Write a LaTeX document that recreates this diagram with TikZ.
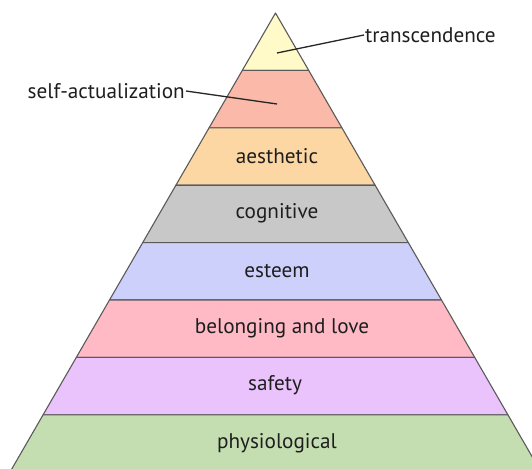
\documentclass[tikz,border=0pt]{standalone}
\usepackage{fontspec}
\setmainfont{PT Sans}
\definecolor{cTrans}{HTML}{FFFAC8}
\definecolor{cSelf}{HTML}{FBB9A9}
\definecolor{cAesth}{HTML}{FDD7A3}
\definecolor{cCogn}{HTML}{C8C8C8}
\definecolor{cEst}{HTML}{CDD0FA}
\definecolor{cBel}{HTML}{FFBAC6}
\definecolor{cSaf}{HTML}{EAC2FC}
\definecolor{cPhys}{HTML}{C4DEB2}
\definecolor{cEdge}{HTML}{5A5A5A}
\definecolor{cText}{HTML}{1E1E1E}
\tikzset{
  layerbox/.style={draw=cEdge, line width=1.1pt, line join=round},
  layertext/.style={font=\fontsize{21.2}{23}\selectfont, text=cText, inner sep=0pt},
  pointer/.style={draw=black!85, line width=1.3pt},
}
\begin{document}
\begin{tikzpicture}[x=1pt,y=-1pt]
\useasboundingbox (0,0) rectangle (532,468);
\clip (0,0) rectangle (532,468);
\def\ax{275.5}
\def\ay{13}
\def\dy{57.4}
\def\dw{33.2}
\foreach \k/\col in {0/cTrans,1/cSelf,2/cAesth,3/cCogn,4/cEst,5/cBel,6/cSaf,7/cPhys}{
  \pgfmathsetmacro{\ya}{\ay+\dy*\k}
  \pgfmathsetmacro{\yb}{\ay+\dy*(\k+1)}
  \pgfmathsetmacro{\wa}{\dw*\k}
  \pgfmathsetmacro{\wb}{\dw*(\k+1)}
  \filldraw[layerbox, fill=\col] (\ax-\wa,\ya) -- (\ax+\wa,\ya) -- (\ax+\wb,\yb) -- (\ax-\wb,\yb) -- cycle;
}
\node[layertext] (aesth) at (277,156) {aesthetic};
\node[layertext] (cogn) at (277,213.5) {cognitive};
\node[layertext] (est) at (277,271) {esteem};
\node[layertext] (bel) at (282,328.5) {belonging and love};
\node[layertext] (saf) at (275,385.5) {safety};
\node[layertext] (phys) at (277,443) {physiological};
\coordinate (tpt) at (277,53);
\coordinate (spt) at (277,104);
\node[layertext, anchor=west, inner xsep=1pt] (trans) at (364,35) {transcendence};
\node[layertext, anchor=east, inner xsep=1pt] (self) at (186,91) {self-actualization};
\draw[pointer] (trans.west) -- (tpt);
\draw[pointer] (self.east) -- (spt);
\end{tikzpicture}
\end{document}
